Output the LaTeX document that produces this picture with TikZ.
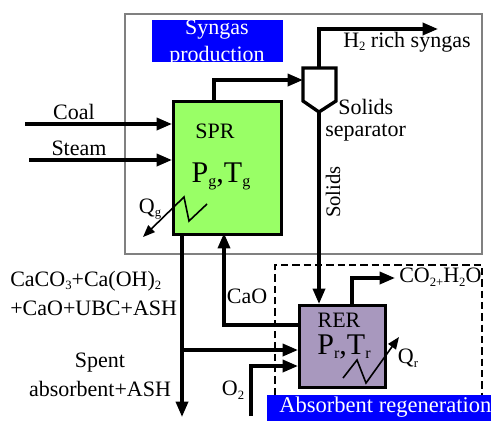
\documentclass[tikz,border=0pt]{standalone}
\usepackage{fontspec}
\setmainfont{Liberation Serif}
\usetikzlibrary{arrows.meta}
\definecolor{sprgreen}{RGB}{153,255,102}
\definecolor{rerpurple}{RGB}{168,152,190}
\newcommand{\lab}[1]{\raisebox{-0.35ex}{\fontsize{9.5}{9.5}\selectfont #1}}
\newcommand{\biglab}[1]{\raisebox{-0.3ex}{\fontsize{12}{12}\selectfont #1}}
\tikzset{
  flow/.style={line width=2.5pt, -{Triangle[length=11.5pt,width=9pt]}},
  heat/.style={line width=1.2pt, -{Triangle[length=9pt,width=7pt]}},
  txt/.style={inner sep=0pt, font=\fontsize{16.5}{19}\selectfont},
  big/.style={inner sep=0pt, font=\fontsize{22.5}{24}\selectfont},
  title/.style={fill=blue, inner sep=0pt},
  unit/.style={draw, line width=2.5pt, inner sep=0pt, anchor=north west}
}
\begin{document}
\begin{tikzpicture}[x=0.75pt, y=-0.75pt]
\useasboundingbox (0,0) rectangle (491,421);
% zones
\draw[gray, line width=1.1pt] (125,14) rectangle (482,254);
\draw[line width=1.3pt, dash pattern=on 5.5pt off 3pt] (275,395) -- (275,265) -- (482,265) -- (482,395);
\node[title, minimum width=98.25pt, minimum height=31.5pt] (syn) at (217.5,41) {};
\begin{scope}
\clip (152,20) rectangle (283,62);
\node[txt, text=white] (syn1) at (217,30) {Syngas};
\node[txt, text=white] (syn2) at (217,56) {production};
\end{scope}
\node[title, minimum width=168pt, minimum height=19.5pt, anchor=north west] (abs) at (267,395) {};
\node[txt, text=white, anchor=west, font=\fontsize{16.9}{19}\selectfont] (abs1) at (279,407) {Absorbent regeneration};
% units
\node[unit, fill=sprgreen, minimum width=81pt, minimum height=99.75pt] (SPR) at (172,100) {};
\node[unit, fill=rerpurple, minimum width=64.5pt, minimum height=61.5pt] (RER) at (298,304) {};
\coordinate (S1) at (303,68);
\coordinate (S2) at (336,68);
\coordinate (S3) at (336,101);
\coordinate (S4) at (319,112);
\coordinate (S5) at (303,101);
\coordinate (Stop) at (319,68);
\coordinate (Sin) at (303,80);
\draw[line width=2.5pt] (S1) -- (S2) -- (S3) -- (S4) -- (S5) -- cycle;
% free ends
\coordinate (coal) at (25,124);
\coordinate (steam) at (29,160);
\coordinate (gas) at (438,29);
\coordinate (co2) at (395,278);
\coordinate (spent) at (182,417);
\coordinate (oxy) at (251,416);
\coordinate (tee) at (182,350);
% streams
\draw[flow] (coal) -- (coal -| SPR.west);
\draw[flow] (steam) -- (steam -| SPR.west);
\draw[flow] (214,100) |- (Sin);
\draw[flow] (Stop) |- (gas);
\draw[flow] (S4) -- (S4 |- RER.north);
\draw[flow] (352,304) |- (co2);
\draw[flow] (RER.west |- 0,325) -| (224,233);
\draw[flow] (182,233) -- (spent);
\draw[flow] (tee) -- (tee -| RER.west);
\draw[flow] (oxy) |- (298,366);
% heat
\coordinate (Qa) at (207,204);
\coordinate (Qb) at (189,221);
\coordinate (Qc) at (184,197);
\coordinate (Qd) at (143,237);
\draw[heat] (Qa) -- (Qb) -- (Qc) -- (Qd);
\coordinate (Qe) at (343,378);
\coordinate (Qf) at (357,360);
\coordinate (Qg) at (366,383);
\coordinate (Qh) at (399,337);
\draw[heat] (Qe) -- (Qf) -- (Qg) -- (Qh);
% labels
\node[txt] (lcoal) at (74,112) {Coal};
\node[txt] (lsteam) at (79,148) {Steam};
\node[txt] (lspr) at (215,131) {SPR};
\node[big] (lpg) at (221,176) {P\biglab{g},T\biglab{g}};
\node[txt] (lqg) at (150,209) {Q\lab{g}};
\node[txt, anchor=west] (lh2) at (343,42) {H\lab{2} rich syngas};
\node[txt, anchor=west] (lsol) at (338,107) {Solids};
\node[txt, anchor=west] (lsep) at (325,133) {separator};
\node[txt, rotate=90, font=\fontsize{15.5}{19}\selectfont] (lsolids) at (333,192) {Solids};
\node[txt, anchor=west] (lco2) at (399,277) {CO\lab{2+}H\lab{2}O};
\node[txt] (lcao) at (247,296) {CaO};
\node[txt] (lrer) at (339,320) {RER};
\node[big] (lpr) at (344,347) {P\biglab{r},T\biglab{r}};
\node[txt] (lqr) at (408,358) {Q\lab{r}};
\node[txt] (lo2) at (233,390) {O\lab{2}};
\node[txt, anchor=west] (lca1) at (10,281) {CaCO\lab{3}+Ca(OH)\lab{2}};
\node[txt, anchor=west] (lca2) at (10,308) {+CaO+UBC+ASH};
\node[txt] (lsp1) at (100,363) {Spent};
\node[txt] (lsp2) at (100,389) {absorbent+ASH};
\end{tikzpicture}
\end{document}
